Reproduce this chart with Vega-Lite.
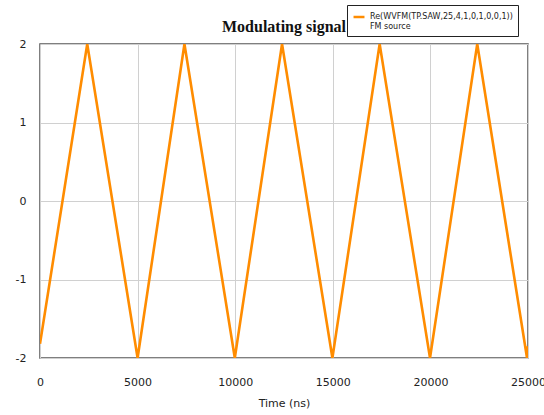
{
  "$schema": "https://vega.github.io/schema/vega-lite/v6.json",
  "width": 488,
  "height": 314,
  "autosize": {"type": "none"},
  "padding": {"left": 40, "top": 44, "right": 16, "bottom": 57},
  "background": "white",
  "title": {
    "text": "Modulating signal",
    "font": "Liberation Serif",
    "fontSize": 16,
    "fontWeight": "bold",
    "color": "#111",
    "anchor": "middle",
    "frame": "group",
    "offset": -30
  },
  "config": {
    "view": {"stroke": "#555", "strokeWidth": 1.5},
    "axis": {
      "labelFont": "DejaVu Sans",
      "labelFontSize": 11,
      "labelColor": "#222",
      "titleFont": "DejaVu Sans",
      "titleFontSize": 11,
      "titleFontWeight": "normal",
      "titleColor": "#222",
      "gridColor": "#d0d0d0",
      "gridWidth": 1,
      "gridOpacity": 1,
      "ticks": false,
      "domain": false
    }
  },
  "data": {
    "values": [
      {"t": 0, "v": -1.82, "s": "Re"},
      {"t": 2420, "v": 2, "s": "Re"},
      {"t": 5000, "v": -2, "s": "Re"},
      {"t": 7400, "v": 2, "s": "Re"},
      {"t": 9980, "v": -2, "s": "Re"},
      {"t": 12400, "v": 2, "s": "Re"},
      {"t": 14980, "v": -2, "s": "Re"},
      {"t": 17400, "v": 2, "s": "Re"},
      {"t": 19980, "v": -2, "s": "Re"},
      {"t": 22400, "v": 2, "s": "Re"},
      {"t": 24950, "v": -2, "s": "Re"},
      {"t": 25000, "v": -1.85, "s": "Re"}
    ]
  },
  "mark": {"type": "line", "strokeWidth": 2.6, "clip": true},
  "encoding": {
    "x": {
      "field": "t",
      "type": "quantitative",
      "scale": {"domain": [0, 25000], "nice": false},
      "axis": {"values": [0, 5000, 10000, 15000, 20000, 25000], "format": "d", "title": "Time (ns)", "labelPadding": 18, "titlePadding": 10, "labelFlush": false}
    },
    "y": {
      "field": "v",
      "type": "quantitative",
      "scale": {"domain": [-2, 2], "nice": false},
      "axis": {"values": [-2, -1, 0, 1, 2], "title": null, "labelPadding": 14, "labelFlush": false, "labelExpr": "datum.value < 0 ? '-' + abs(datum.value) : datum.label"}
    },
    "color": {
      "field": "s",
      "type": "nominal",
      "scale": {"range": ["#ff8c00"]},
      "legend": {
        "orient": "none",
        "legendX": 307,
        "legendY": -39,
        "title": null,
        "fillColor": "white",
        "strokeColor": "#222",
        "padding": 5,
        "symbolType": "stroke",
        "symbolStrokeWidth": 2.5,
        "symbolSize": 120,
        "labelFont": "DejaVu Sans",
        "labelFontSize": 8,
        "labelColor": "#222",
        "labelLimit": 300,
        "labelExpr": "['Re(WVFM(TP.SAW,25,4,1,0,1,0,0,1))', 'FM source']"
      }
    }
  }
}
